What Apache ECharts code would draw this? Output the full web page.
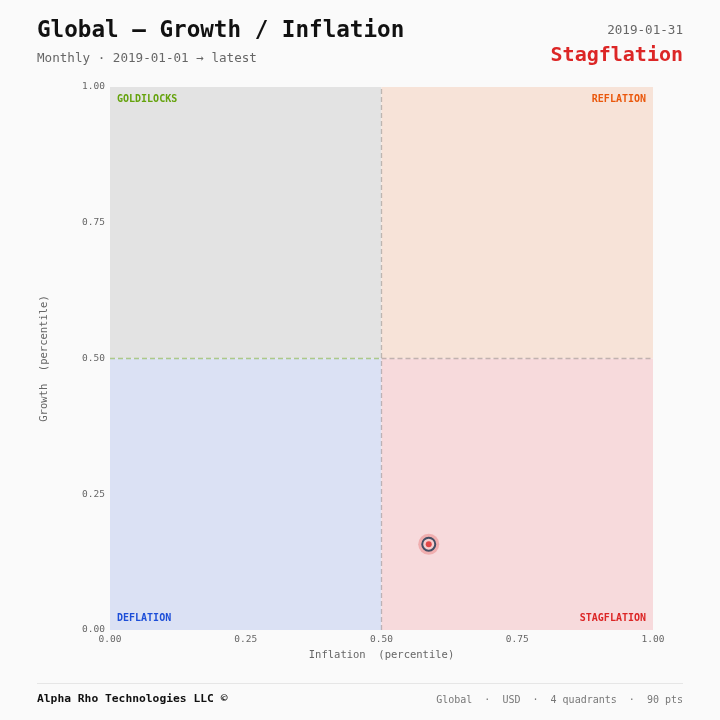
<!DOCTYPE html>
<html>
<head>
<meta charset="utf-8">
<script src="https://cdn.jsdelivr.net/npm/echarts@6/dist/echarts.min.js"></script>
<style>
  html, body { margin: 0; padding: 0; background: #fafafa; }
  #chart { width: 720px; height: 720px; }
</style>
</head>
<body>
<div id="chart"></div>
<script>
const MONO = '"DejaVu Sans Mono", "Liberation Mono", monospace';

// quadrant regimes: [name, xFrom, xTo, yFrom, yTo]
const quadNames = ['GOLDILOCKS', 'REFLATION', 'DEFLATION', 'STAGFLATION'];
const quadX = [[0, 0.5], [0.5, 1], [0, 0.5], [0.5, 1]];
const quadY = [[0.5, 1], [0.5, 1], [0, 0.5], [0, 0.5]];
const quadFill = ['#e3e3e3', '#f7e3d8', '#dbe1f4', '#f7dadc'];
const quadText = ['#65a30d', '#ea580c', '#1d4ed8', '#dc2626'];
const quadPos = ['insideTopLeft', 'insideTopRight', 'insideBottomLeft', 'insideBottomRight'];

// latest reading (inflation pct, growth pct)
const point = [[0.587, 0.158]];

const ticks = [0, 0.25, 0.5, 0.75, 1];

const chart = echarts.init(document.getElementById('chart'));

const areas = quadNames.map((name, i) => ([
    {
        name: name,
        xAxis: quadX[i][0], yAxis: quadY[i][0],
        itemStyle: { color: quadFill[i], opacity: 1 },
        label: {
            show: true, position: quadPos[i], distance: 7,
            color: quadText[i], fontFamily: MONO, fontSize: 10, fontWeight: 'bold'
        }
    },
    { xAxis: quadX[i][1], yAxis: quadY[i][1] }
]));

const dash = { type: [5, 3], width: 1.3 };

chart.setOption({
    backgroundColor: '#fafafa',
    animation: false,
    title: [
        { text: 'Global — Growth / Inflation', left: 37, top: 20, padding: 0,
          textStyle: { fontFamily: MONO, fontSize: 22.6, fontWeight: 'bold', color: '#111' } },
        { text: 'Monthly · 2019-01-01 → latest', left: 37, top: 52, padding: 0,
          textStyle: { fontFamily: MONO, fontSize: 12.6, fontWeight: 'normal', color: '#666' } },
        { text: '2019-01-31', right: 37, top: 24, padding: 0,
          textStyle: { fontFamily: MONO, fontSize: 12.6, fontWeight: 'normal', color: '#666' } },
        { text: 'Stagflation', right: 37, top: 46, padding: 0,
          textStyle: { fontFamily: MONO, fontSize: 20, fontWeight: 'bold', color: '#dc2626' } },
        { text: 'Alpha Rho Technologies LLC ©', left: 37, top: 694, padding: 0,
          textStyle: { fontFamily: MONO, fontSize: 11.3, fontWeight: 'bold', color: '#111' } },
        { text: 'Global  ·  USD  ·  4 quadrants  ·  90 pts', right: 37, top: 695, padding: 0,
          textStyle: { fontFamily: MONO, fontSize: 10, fontWeight: 'normal', color: '#777' } }
    ],
    graphic: [
        { type: 'line', shape: { x1: 37, y1: 683.5, x2: 683, y2: 683.5 },
          style: { stroke: '#e6e6e6', lineWidth: 1 } }
    ],
    grid: { left: 110, right: 67, top: 87, bottom: 90 },
    xAxis: {
        type: 'value', min: ticks[0], max: ticks[ticks.length - 1], interval: 0.25,
        name: 'Inflation  (percentile)', nameLocation: 'middle', nameGap: 20,
        nameTextStyle: { fontFamily: MONO, fontSize: 10.5, color: '#666' },
        axisLine: { show: false }, axisTick: { show: false }, splitLine: { show: false },
        axisLabel: { fontFamily: MONO, fontSize: 9.5, color: '#666', margin: 5,
                     formatter: v => v.toFixed(2) }
    },
    yAxis: {
        type: 'value', min: ticks[0], max: ticks[ticks.length - 1], interval: 0.25,
        name: 'Growth  (percentile)', nameLocation: 'middle', nameGap: 60,
        nameTextStyle: { fontFamily: MONO, fontSize: 10.5, color: '#666' },
        axisLine: { show: false }, axisTick: { show: false }, splitLine: { show: false },
        axisLabel: { fontFamily: MONO, fontSize: 9.5, color: '#666', margin: 5,
                     formatter: v => v.toFixed(2) }
    },
    series: [
        {
            type: 'scatter', data: point, symbolSize: 21, z: 2,
            itemStyle: { color: 'rgba(220,38,38,0.3)' },
            silent: true,
            markArea: { silent: true, data: areas },
            markLine: {
                silent: true, symbol: 'none', label: { show: false },
                data: [
                    [{ coord: [0, 0.5], lineStyle: { ...dash, color: 'rgba(101,163,13,0.45)' } }, { coord: [0.5, 0.5] }],
                    [{ coord: [0.5, 0.5], lineStyle: { ...dash, color: 'rgba(0,0,0,0.22)' } }, { coord: [1, 0.5] }],
                    [{ coord: [0.5, 0], lineStyle: { ...dash, color: 'rgba(0,0,0,0.22)' } }, { coord: [0.5, 1] }]
                ]
            }
        },
        {
            type: 'scatter', data: point, symbolSize: 13, z: 3,
            itemStyle: { color: '#f7d4d4', borderColor: '#17324d', borderWidth: 2 }
        },
        {
            type: 'scatter', data: point, symbolSize: 6, z: 4,
            itemStyle: { color: '#dc2626' }
        }
    ]
});
</script>
</body>
</html>
